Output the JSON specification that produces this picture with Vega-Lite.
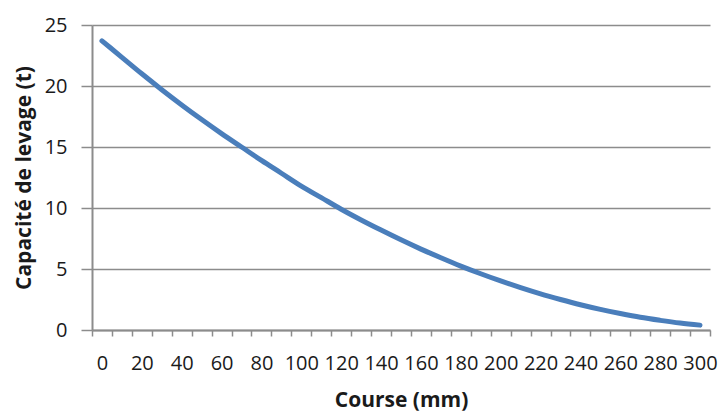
{
  "$schema": "https://vega.github.io/schema/vega-lite/v6.json",
  "width": 618,
  "height": 305,
  "autosize": "none",
  "padding": {"left": 92, "top": 25, "right": 9, "bottom": 82},
  "background": "white",
  "config": {
    "view": {"stroke": null},
    "axis": {"labelFont": "Open Sans", "titleFont": "Open Sans", "labelColor": "#1a1a1a", "titleColor": "#1a1a1a"}
  },
  "data": {
    "values": [
      {"course": 0, "capacite": 23.7},
      {"course": 10, "capacite": 22.35},
      {"course": 20, "capacite": 21.0},
      {"course": 30, "capacite": 19.7},
      {"course": 40, "capacite": 18.45},
      {"course": 50, "capacite": 17.25},
      {"course": 60, "capacite": 16.1},
      {"course": 70, "capacite": 15.0},
      {"course": 80, "capacite": 13.9},
      {"course": 90, "capacite": 12.85},
      {"course": 100, "capacite": 11.8},
      {"course": 110, "capacite": 10.85},
      {"course": 120, "capacite": 9.9},
      {"course": 130, "capacite": 9.02},
      {"course": 140, "capacite": 8.19},
      {"course": 150, "capacite": 7.39},
      {"course": 160, "capacite": 6.63},
      {"course": 170, "capacite": 5.92},
      {"course": 180, "capacite": 5.24},
      {"course": 190, "capacite": 4.61},
      {"course": 200, "capacite": 4.02},
      {"course": 210, "capacite": 3.47},
      {"course": 220, "capacite": 2.96},
      {"course": 230, "capacite": 2.5},
      {"course": 240, "capacite": 2.07},
      {"course": 250, "capacite": 1.69},
      {"course": 260, "capacite": 1.35},
      {"course": 270, "capacite": 1.04},
      {"course": 280, "capacite": 0.79},
      {"course": 290, "capacite": 0.57},
      {"course": 300, "capacite": 0.4}
    ]
  },
  "mark": {"type": "line", "color": "#4A7EBB", "strokeWidth": 5, "interpolate": "monotone", "strokeCap": "round"},
  "encoding": {
    "x": {
      "field": "course",
      "type": "quantitative",
      "scale": {"domain": [-5, 305], "nice": false, "zero": false},
      "axis": {
        "title": "Course (mm)",
        "titleFontSize": 21,
        "titleFontWeight": "bold",
        "titlePadding": 16,
        "values": [-5, 5, 15, 25, 35, 45, 55, 65, 75, 85, 95, 105, 115, 125, 135, 145, 155, 165, 175, 185, 195, 205, 215, 225, 235, 245, 255, 265, 275, 285, 295, 305],
        "labelExpr": "datum.value >= 5 && (datum.value - 5) % 20 == 0 ? format(datum.value - 5, 'd') : ''",
        "labelOffset": -9.97,
        "labelOverlap": false,
        "labelBound": false,
        "labelFlush": false,
        "labelFontSize": 20,
        "labelPadding": 17,
        "tickSize": 6,
        "tickColor": "#8c8c8c",
        "tickWidth": 1.5,
        "domainColor": "#8c8c8c",
        "domainWidth": 2,
        "grid": false
      }
    },
    "y": {
      "field": "capacite",
      "type": "quantitative",
      "scale": {"domain": [0, 25], "nice": false},
      "axis": {
        "title": "Capacité de levage (t)",
        "titleFontSize": 21,
        "titleFontWeight": "bold",
        "titlePadding": 10,
        "values": [0, 5, 10, 15, 20, 25],
        "labelFontSize": 20,
        "labelPadding": 14,
        "tickSize": 11,
        "tickColor": "#8c8c8c",
        "tickWidth": 1.5,
        "domainColor": "#8c8c8c",
        "domainWidth": 2,
        "grid": true,
        "gridColor": "#8c8c8c",
        "gridWidth": 1.5
      }
    }
  }
}
